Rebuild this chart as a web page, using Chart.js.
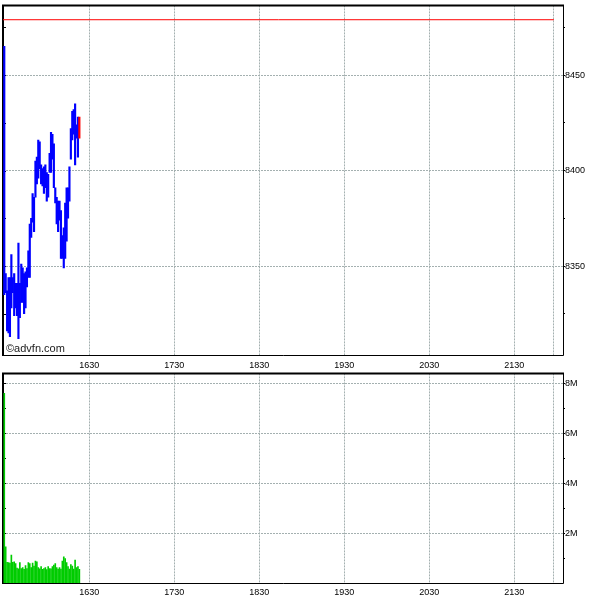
<!DOCTYPE html>
<html>
<head>
<meta charset="utf-8">
<script src="https://cdn.jsdelivr.net/npm/chart.js@4.4.1/dist/chart.umd.min.js"></script>
<style>
  body { margin: 0; background: #fff; }
  #wrap { position: relative; width: 600px; height: 600px; }
  canvas { position: absolute; left: 0; }
  #precio { top: 0; }
  #volumen { top: 368px; }
  #copy { position: absolute; left: 6px; top: 342px; font: 11px "Liberation Sans", Arial, sans-serif; line-height: 12px; color: #222; }
</style>
</head>
<body>
<div id="wrap">
  <canvas id="precio" width="600" height="368"></canvas>
  <canvas id="volumen" width="600" height="232"></canvas>
  <div id="copy">©advfn.com</div>
</div>
<script>
// -----------------------------
// DATA
// -----------------------------
const times = [
  "15:30", "15:31", "15:32", "15:33", "15:34", "15:35", "15:36", "15:37", "15:38", "15:39",
  "15:40", "15:41", "15:42", "15:43", "15:44", "15:45", "15:46", "15:47", "15:48", "15:49",
  "15:50", "15:51", "15:52", "15:53", "15:54", "15:55", "15:56", "15:57", "15:58", "15:59",
  "16:00", "16:01", "16:02", "16:03", "16:04", "16:05", "16:06", "16:07", "16:08", "16:09",
  "16:10", "16:11", "16:12", "16:13", "16:14", "16:15", "16:16", "16:17", "16:18", "16:19",
  "16:20", "16:21", "16:22", "16:23"
];
const lows = [
  8335, 8336, 8316, 8315, 8313, 8328, 8336, 8324, 8328, 8324,
  8312, 8323, 8331, 8331, 8325, 8328, 8339, 8344, 8344, 8365,
  8373, 8368, 8386, 8393, 8396, 8401, 8393, 8392, 8388, 8391,
  8384, 8386, 8399, 8399, 8406, 8391, 8383, 8372, 8368, 8374,
  8354, 8354, 8349, 8354, 8363, 8375, 8384, 8406, 8416, 8419,
  8403, 8417, 8407, 8417
];
const highs = [
  8465, 8346, 8337, 8344, 8344, 8356, 8344, 8346, 8341, 8341,
  8362, 8341, 8351, 8349, 8346, 8347, 8349, 8358, 8372, 8375,
  8388, 8386, 8405, 8407, 8416, 8415, 8403, 8401, 8402, 8403,
  8399, 8398, 8409, 8420, 8419, 8414, 8391, 8386, 8384, 8384,
  8379, 8366, 8370, 8383, 8391, 8391, 8402, 8422, 8431, 8432,
  8435, 8424, 8428, 8428
];
// volume in millions
const volumes = [
  7.6, 1.45, 0.83, 0.82, 0.80, 1.12, 0.83, 0.85, 0.78, 0.60,
  0.57, 0.82, 0.58, 0.62, 0.55, 0.70, 0.58, 0.82, 0.78, 0.62,
  0.80, 0.68, 0.88, 0.85, 0.62, 0.57, 0.66, 0.55, 0.58, 0.62,
  0.54, 0.66, 0.58, 0.57, 0.66, 0.72, 0.78, 0.62, 0.56, 0.62,
  0.56, 0.88, 1.05, 0.98, 0.82, 0.66, 0.56, 0.74, 0.68, 0.56,
  0.92, 0.62, 0.66, 0.55
];
const timeTicks = ["16:30", "17:30", "18:30", "19:30", "20:30", "21:30"];
const closeTime = "21:58";
const prevClose = 8479;
const priceTicks = [8325, 8350, 8375, 8400, 8425, 8450, 8475];
const volumeTicks = [1, 2, 3, 4, 5, 6, 7, 8];

const FONT = '"Liberation Sans", Arial, sans-serif';
const GRID = "#a4b0b0";
const X_MIN = 929.1, X_MAX = 1324.4;

const toMin = t => { const [h, m] = t.split(":"); return h * 60 + Number(m); };
const xTicks = timeTicks.concat([closeTime]).map(toMin);
const closeMin = toMin(closeTime);

function labelHora(v) {
  const h = Math.floor(v / 60), m = v % 60;
  return String(h) + String(m).padStart(2, "0");
}

// black frame round the plot, with small ticks inside the left edge
const marco = {
  id: "marco",
  beforeDatasetsDraw(chart) {
    const { ctx, chartArea: a } = chart;
    ctx.save();
    ctx.strokeStyle = "#000";
    ctx.lineWidth = 1;
    ctx.beginPath();
    ctx.moveTo(a.right + 0.5, a.top);
    ctx.lineTo(a.right + 0.5, a.bottom + 0.5);
    ctx.lineTo(a.left, a.bottom + 0.5);
    ctx.stroke();
    ctx.lineWidth = 2;
    ctx.beginPath();
    ctx.moveTo(a.left, a.bottom + 1);
    ctx.lineTo(a.left, a.top);
    ctx.lineTo(a.right + 1, a.top);
    ctx.stroke();
    ctx.lineWidth = 1;
    const y = chart.scales.y;
    y.ticks.forEach(t => {
      const py = Math.round(y.getPixelForValue(t.value)) + 0.5;
      ctx.beginPath();
      ctx.moveTo(a.left, py);
      ctx.lineTo(a.left + 3, py);
      ctx.stroke();
    });
    ctx.restore();
  }
};

function ejeX(pad) {
  return {
    type: "linear", min: X_MIN, max: X_MAX, offset: false,
    afterBuildTicks: s => { s.ticks = xTicks.map(v => ({ value: v })); },
    grid: { color: GRID, drawTicks: false, offset: false },
    border: { display: false, dash: [2, 1] },
    ticks: {
      padding: pad, color: "#000", autoSkip: false, maxRotation: 0,
      font: { family: FONT, size: 9 },
      callback: v => (v === closeMin ? "" : labelHora(v))
    }
  };
}

// -----------------------------
// PRICE
// -----------------------------
const xPrecio = ejeX(5);
xPrecio.afterFit = s => { s.height = 13; };

const chartPrecio = new Chart(document.getElementById("precio"), {
  type: "bar",
  data: {
    datasets: [{
      type: "bar",
      data: times.map((t, i) => ({ x: toMin(t), y: [lows[i], highs[i]] })),
      backgroundColor: c => (c.dataIndex === times.length - 1 ? "#ff0000" : "#0000ff"),
      barThickness: 1.5,
      borderWidth: 0
    }, {
      type: "line",
      data: [{ x: X_MIN, y: prevClose }, { x: closeMin, y: prevClose }],
      borderColor: "#ff0000",
      borderWidth: 1,
      pointRadius: 0
    }]
  },
  options: {
    responsive: false,
    animation: false,
    layout: { padding: { left: 3, top: 3, right: 0, bottom: 0 } },
    plugins: { legend: { display: false }, tooltip: { enabled: false } },
    scales: {
      x: xPrecio,
      y: {
        position: "right", min: 8303.4, max: 8486.5, beginAtZero: false,
        afterBuildTicks: s => { s.ticks = priceTicks.map(v => ({ value: v })); },
        afterFit: s => { s.width = 37; },
        grid: {
          color: c => (c.tick && c.tick.value % 50 === 0 ? GRID : "transparent"),
          tickColor: "#000", tickLength: 2
        },
        border: { display: false, dash: [2, 1] },
        ticks: {
          padding: 0, color: "#000", autoSkip: false,
          font: { family: FONT, size: 9 },
          callback: v => (v % 50 === 0 ? String(v) : "")
        }
      }
    }
  },
  plugins: [marco]
});

// -----------------------------
// VOLUME
// -----------------------------
const xVolumen = ejeX(4);
xVolumen.afterFit = s => { s.height = 17; };

const chartVolumen = new Chart(document.getElementById("volumen"), {
  type: "bar",
  data: {
    datasets: [{
      data: times.map((t, i) => ({ x: toMin(t), y: volumes[i] })),
      backgroundColor: "#00cc00",
      barThickness: 1,
      borderWidth: 0
    }]
  },
  options: {
    responsive: false,
    animation: false,
    layout: { padding: { left: 3, top: 0, right: 0, bottom: 0 } },
    plugins: { legend: { display: false }, tooltip: { enabled: false } },
    scales: {
      x: xVolumen,
      y: {
        position: "right", min: 0, max: 8.4,
        afterBuildTicks: s => { s.ticks = volumeTicks.map(v => ({ value: v })); },
        afterFit: s => { s.width = 37; },
        grid: {
          color: c => (c.tick && c.tick.value % 2 === 0 ? GRID : "transparent"),
          tickColor: "#000", tickLength: 2
        },
        border: { display: false, dash: [2, 1] },
        ticks: {
          padding: 0, color: "#000", autoSkip: false,
          font: { family: FONT, size: 9 },
          callback: v => (v % 2 === 0 ? v + "M" : "")
        }
      }
    }
  },
  plugins: [marco]
});
</script>
</body>
</html>
